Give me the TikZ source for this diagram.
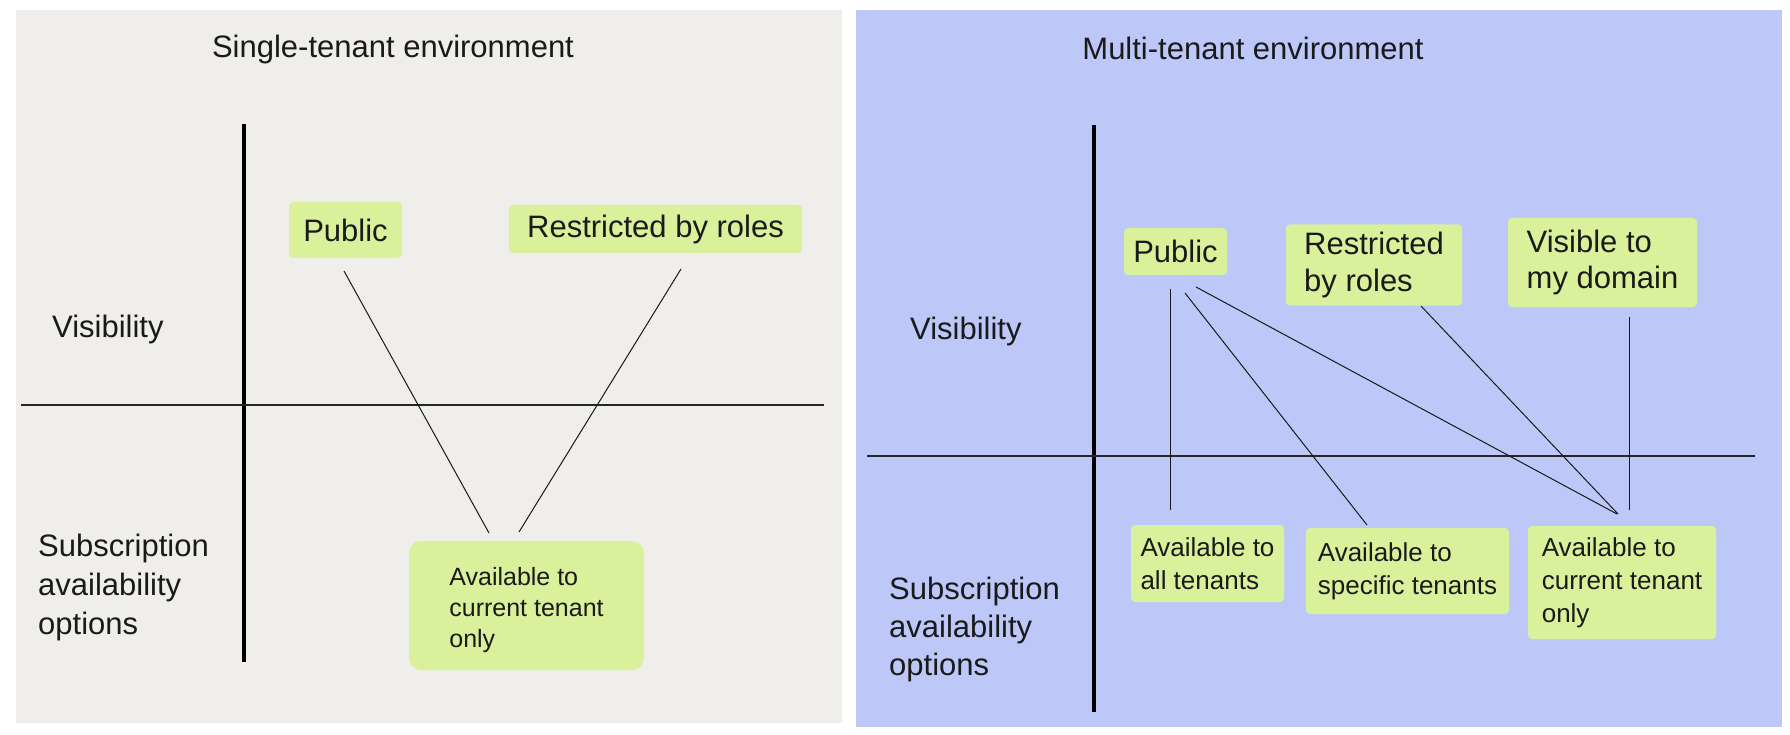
\documentclass[tikz,border=0pt]{standalone}
\usepackage{fontspec}
\setmainfont{Liberation Sans}
\definecolor{graybg}{HTML}{EFEEEB}
\definecolor{bluebg}{HTML}{BDC8F8}
\definecolor{boxgreen}{HTML}{D9F19B}
\definecolor{ink}{HTML}{1A1A1A}
\tikzset{
  big/.style={font=\fontsize{31}{37}\selectfont, text=ink},
  bigml/.style={font=\fontsize{31}{36.5}\selectfont, text=ink},
  small/.style={font=\fontsize{26}{33}\selectfont, text=ink},
  lbl/.style={anchor=west, inner sep=0pt, align=left, text=ink},
  gbox/.style={fill=boxgreen, rounded corners=4pt, inner sep=0pt, align=left},
  axisv/.style={line width=4pt, black},
  axish/.style={line width=1.5pt, black!85},
  conn/.style={line width=1pt, black!90},
}
\begin{document}
\begin{tikzpicture}[x=1pt,y=-1pt]
\useasboundingbox (0,0) rectangle (1790,735);
\fill[white] (0,0) rectangle (1790,735);
\fill[graybg] (16,10) rectangle (842,723);
\fill[bluebg] (856,10) rectangle (1782,727);

% ---------- left panel ----------
\node[big] (ltitle) at (393,49) {Single-tenant environment};
\draw[axisv] (244,124) -- (244,662);
\draw[axish] (21,405) -- (824,405);
\node[big, lbl] (lvis) at (52,329) {Visibility};
\node[lbl, font=\fontsize{31}{39}\selectfont] (lsub) at (38,587) {Subscription\\availability\\options};

\node[gbox, big, minimum width=113pt, minimum height=56pt] (lpub) at (345.5,230) {Public};
\node[gbox, big, minimum width=293pt, minimum height=48pt] (lres) at (655.5,229) {Restricted by roles};
\node[gbox, rounded corners=12pt, minimum width=235pt, minimum height=129pt] (lcur) at (526.5,605.5) {};
\node[inner sep=0pt, align=left, font=\fontsize{25}{31}\selectfont, text=ink, yshift=-5pt] (lcurtext) at (lcur.center) {Available to\\current tenant\\only};

\coordinate (l1a) at (344,271);
\coordinate (l1b) at (489,533);
\coordinate (l2a) at (681,269);
\coordinate (l2b) at (519,532);
\draw[conn] (l1a) -- (l1b);
\draw[conn] (l2a) -- (l2b);

% ---------- right panel ----------
\node[big] (rtitle) at (1253,48) {Multi-tenant environment};
\draw[axisv] (1094,125) -- (1094,712);
\draw[axish] (867,456) -- (1755,456);
\node[big, lbl] (rvis) at (910,331) {Visibility};
\node[lbl, font=\fontsize{31}{38}\selectfont] (rsub) at (889,629) {Subscription\\availability\\options};

\node[gbox, big, minimum width=103pt, minimum height=47pt] (rpub) at (1175.5,251.5) {Public};
\node[gbox, bigml, minimum width=176pt, minimum height=81pt] (rres) at (1374,265) {Restricted\\by roles};
\node[gbox, bigml, minimum width=189pt, minimum height=89pt] (rvisd) at (1602.5,262.5) {Visible to\\my domain};

\node[gbox, small, minimum width=153pt, minimum height=77pt] (rall) at (1207.5,563.5) {Available to\\all tenants};
\node[gbox, small, minimum width=203pt, minimum height=86pt] (rspec) at (1407.5,571) {Available to\\specific tenants};
\node[gbox, small, minimum width=188pt, minimum height=113pt] (rcur) at (1622,582.5) {Available to\\current tenant\\only};

\coordinate (p1a) at (1170,289);
\coordinate (p1b) at (1170,510);
\coordinate (p2a) at (1185,293);
\coordinate (p2b) at (1367,525);
\coordinate (p3a) at (1196,287);
\coordinate (p3b) at (1617,514);
\coordinate (r1a) at (1421,306);
\coordinate (r1b) at (1618,514);
\coordinate (v1a) at (1629,317);
\coordinate (v1b) at (1629,510);
\draw[conn] (p1a) -- (p1b);
\draw[conn] (p2a) -- (p2b);
\draw[conn] (p3a) -- (p3b);
\draw[conn] (r1a) -- (r1b);
\draw[conn] (v1a) -- (v1b);
\end{tikzpicture}
\end{document}
